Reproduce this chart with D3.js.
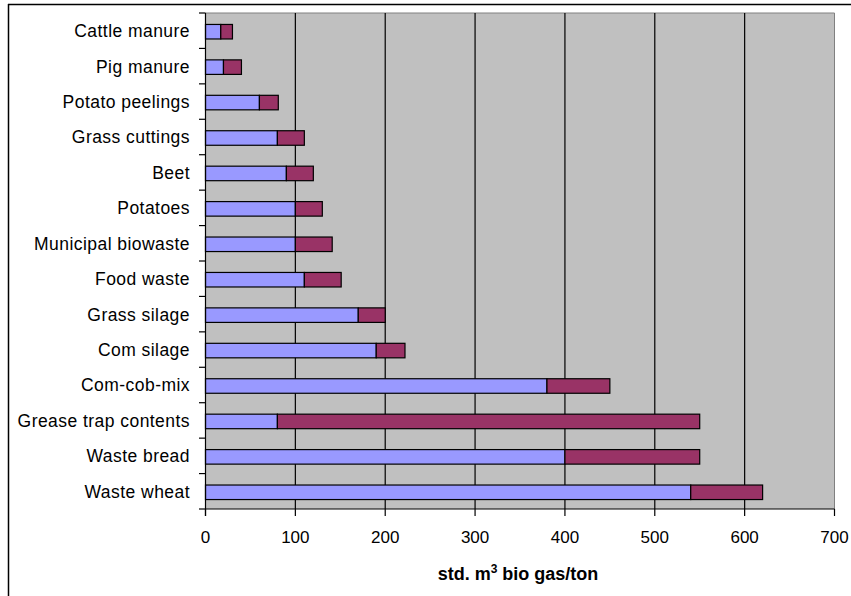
<!DOCTYPE html>
<html>
<head>
<meta charset="utf-8">
<script src="https://cdn.jsdelivr.net/npm/d3@7"></script>
<style>
  html, body { margin: 0; padding: 0; background: #fff; }
  svg { display: block; }
  text { font-family: "Liberation Sans", Arial, sans-serif; fill: #000; }
</style>
</head>
<body>
<svg id="chart" width="851" height="596"></svg>
<script>
// Substrates, top to bottom
const categories = [
  "Cattle manure", "Pig manure", "Potato peelings", "Grass cuttings", "Beet",
  "Potatoes", "Municipal biowaste", "Food waste", "Grass silage", "Com silage",
  "Com-cob-mix", "Grease trap contents", "Waste bread", "Waste wheat"
];
// Lower yield (first segment) and the additional range on top of it
const baseYield  = [17, 20, 60, 80, 90, 100, 100, 110, 170, 190, 380, 80, 400, 540];
const extraYield = [13, 20, 21, 30, 30, 30, 41, 41, 30, 32, 70, 470, 150, 80];
const xTicks = [0, 100, 200, 300, 400, 500, 600, 700];
const seriesColors = ["#9999FF", "#993366"];

const svg = d3.select("#chart");
const plot = { left: 205.5, right: 834.5, top: 13, bottom: 509 };

const x = d3.scaleLinear().domain([0, 700]).range([plot.left, plot.right]);
const y = d3.scaleBand().domain(categories).range([plot.top, plot.bottom]).paddingInner(0.59).paddingOuter(0.295);
const band = d3.scaleBand().domain(categories).range([plot.top, plot.bottom]);

// Outer frame (top and left edges)
svg.append("line").attr("x1", 8).attr("x2", 851).attr("y1", 4.5).attr("y2", 4.5)
  .attr("stroke", "#000").attr("stroke-width", 1.5);
svg.append("line").attr("x1", 8.5).attr("x2", 8.5).attr("y1", 4).attr("y2", 596)
  .attr("stroke", "#000").attr("stroke-width", 1.5);

// Plot background
svg.append("rect")
  .attr("x", plot.left).attr("y", plot.top)
  .attr("width", plot.right - plot.left).attr("height", plot.bottom - plot.top)
  .attr("fill", "#C0C0C0");
// Plot area border (top, right)
svg.append("path")
  .attr("d", `M${plot.left},${plot.top}H${plot.right}V${plot.bottom}`)
  .attr("fill", "none").attr("stroke", "#808080").attr("stroke-width", 1);

// Vertical gridlines
svg.append("g").selectAll("line").data(xTicks.filter(d => d > 0 && d < 700)).join("line")
  .attr("x1", d => x(d)).attr("x2", d => x(d))
  .attr("y1", plot.top).attr("y2", plot.bottom)
  .attr("stroke", "#000").attr("stroke-width", 1.2);

// Stacked bars
const stackData = categories.map((c, i) => ({ cat: c, base: baseYield[i], extra: extraYield[i] }));
const stacked = d3.stack().keys(["base", "extra"])(stackData);
svg.append("g").selectAll("g").data(stacked).join("g")
  .attr("fill", (d, i) => seriesColors[i])
  .selectAll("rect").data(d => d).join("rect")
  .attr("x", d => x(d[0]))
  .attr("y", d => y(d.data.cat) + 1)
  .attr("width", d => x(d[1]) - x(d[0]))
  .attr("height", y.bandwidth())
  .attr("stroke", "#000").attr("stroke-width", 1.2);

// Y axis: line, ticks at band boundaries, labels
const yAxis = svg.append("g");
yAxis.append("line").attr("x1", plot.left).attr("x2", plot.left)
  .attr("y1", plot.top).attr("y2", plot.bottom + 7).attr("stroke", "#000").attr("stroke-width", 1.2);
const boundaries = d3.range(categories.length + 1).map(i => plot.top + i * band.step());
yAxis.selectAll("line.tick").data(boundaries).join("line").attr("class", "tick")
  .attr("x1", plot.left - 6.5).attr("x2", plot.left)
  .attr("y1", d => d).attr("y2", d => d)
  .attr("stroke", "#000").attr("stroke-width", 1.2);
yAxis.selectAll("text").data(categories).join("text")
  .attr("x", 190)
  .attr("y", d => band(d) + band.bandwidth() / 2)
  .attr("dy", "0.37em")
  .attr("text-anchor", "end")
  .attr("font-size", "17.5px")
  .attr("letter-spacing", "0.45px")
  .text(d => d);

// X axis
const xAxis = svg.append("g");
xAxis.append("line").attr("x1", plot.left).attr("x2", plot.right)
  .attr("y1", plot.bottom).attr("y2", plot.bottom).attr("stroke", "#000").attr("stroke-width", 1.2);
xAxis.selectAll("line.tick").data(xTicks).join("line").attr("class", "tick")
  .attr("x1", d => x(d)).attr("x2", d => x(d))
  .attr("y1", plot.bottom).attr("y2", plot.bottom + 7)
  .attr("stroke", "#000").attr("stroke-width", 1.2);
xAxis.selectAll("text").data(xTicks).join("text")
  .attr("x", d => x(d))
  .attr("y", 543)
  .attr("text-anchor", "middle")
  .attr("font-size", "17px")
  .text(d => d);

// Axis title
const title = svg.append("text")
  .attr("x", 518).attr("y", 580)
  .attr("text-anchor", "middle")
  .attr("font-size", "18px").attr("font-weight", "bold");
title.append("tspan").text("std. m");
title.append("tspan").attr("font-size", "12px").attr("dy", "-7").text("3");
title.append("tspan").attr("dy", "7").text(" bio gas/ton");
</script>
</body>
</html>
